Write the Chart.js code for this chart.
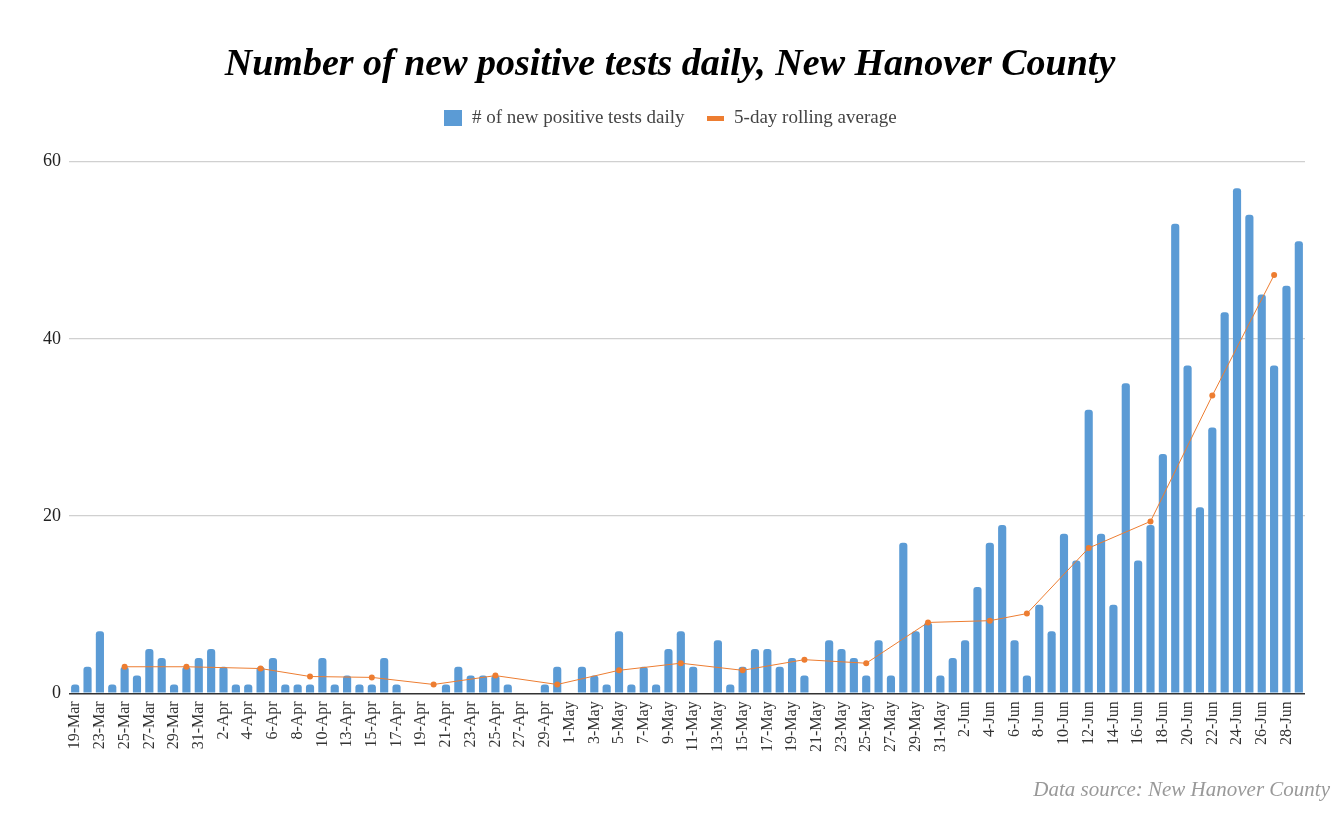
<!DOCTYPE html>
<html lang="en">
<head>
    <meta charset="UTF-8">
    <title>New positive tests, New Hanover County</title>
    <script src="https://cdn.jsdelivr.net/npm/chart.js@4.4.1/dist/chart.umd.min.js"></script>
    <style>
        body {
            margin: 0;
            background: #fff;
        }
        .chart-container {
            width: 1344px;
            height: 829px;
        }
    </style>
</head>
<body>
    <div class="chart-container">
        <canvas id="casesChart"></canvas>
    </div>

    <script>
        // dates on the x axis (one missing day near 20-Mar and near 11-Apr)
        const dates = [
            '19-Mar', '22-Mar', '23-Mar', '24-Mar', '25-Mar', '26-Mar', '27-Mar', '28-Mar', '29-Mar', '30-Mar',
            '31-Mar', '1-Apr', '2-Apr', '3-Apr', '4-Apr', '5-Apr', '6-Apr', '7-Apr', '8-Apr', '9-Apr',
            '10-Apr', '12-Apr', '13-Apr', '14-Apr', '15-Apr', '16-Apr', '17-Apr', '18-Apr', '19-Apr', '20-Apr',
            '21-Apr', '22-Apr', '23-Apr', '24-Apr', '25-Apr', '26-Apr', '27-Apr', '28-Apr', '29-Apr', '30-Apr',
            '1-May', '2-May', '3-May', '4-May', '5-May', '6-May', '7-May', '8-May', '9-May', '10-May',
            '11-May', '12-May', '13-May', '14-May', '15-May', '16-May', '17-May', '18-May', '19-May', '20-May',
            '21-May', '22-May', '23-May', '24-May', '25-May', '26-May', '27-May', '28-May', '29-May', '30-May',
            '31-May', '1-Jun', '2-Jun', '3-Jun', '4-Jun', '5-Jun', '6-Jun', '7-Jun', '8-Jun', '9-Jun',
            '10-Jun', '11-Jun', '12-Jun', '13-Jun', '14-Jun', '15-Jun', '16-Jun', '17-Jun', '18-Jun', '19-Jun',
            '20-Jun', '21-Jun', '22-Jun', '23-Jun', '24-Jun', '25-Jun', '26-Jun', '27-Jun', '28-Jun', '29-Jun'
        ];

        const newPositives = [
            1, 3, 7, 1, 3, 2, 5, 4, 1, 3,
            4, 5, 3, 1, 1, 3, 4, 1, 1, 1,
            4, 1, 2, 1, 1, 4, 1, 0, 0, 0,
            1, 3, 2, 2, 2, 1, 0, 0, 1, 3,
            0, 3, 2, 1, 7, 1, 3, 1, 5, 7,
            3, 0, 6, 1, 3, 5, 5, 3, 4, 2,
            0, 6, 5, 4, 2, 6, 2, 17, 7, 8,
            2, 4, 6, 12, 17, 19, 6, 2, 10, 7,
            18, 15, 32, 18, 10, 35, 15, 19, 27, 53,
            37, 21, 30, 43, 57, 54, 45, 37, 46, 51
        ];

        // rolling average is only plotted on some days
        const avgDates = [
            '25-Mar', '30-Mar', '5-Apr', '9-Apr', '15-Apr', '20-Apr', '25-Apr', '30-Apr', '5-May', '10-May',
            '15-May', '20-May', '25-May', '30-May', '4-Jun', '7-Jun', '12-Jun', '17-Jun', '22-Jun', '27-Jun'
        ];
        const avgValues = [
            3, 3, 2.8, 1.9, 1.8, 1, 2, 1, 2.6, 3.4,
            2.6, 3.8, 3.4, 8, 8.2, 9, 16.4, 19.4, 33.6, 47.2
        ];

        const yTicks = [0, 20, 40, 60];

        const rollingAvg = dates.map(d => {
            const i = avgDates.indexOf(d);
            return i === -1 ? null : avgValues[i];
        });

        function legendIcon(w, h, color) {
            const c = document.createElement('canvas');
            c.width = w;
            c.height = h;
            const g = c.getContext('2d');
            g.fillStyle = color;
            g.fillRect(0, 0, w, h);
            return c;
        }
        const blueIcon = legendIcon(18, 16, '#5b9bd5');
        const orangeIcon = legendIcon(17, 5, '#ed7d31');

        const serif = "'Liberation Serif', 'DejaVu Serif', serif";

        // extra room under the legend
        const legendGap = {
            id: 'legendGap',
            beforeInit(chart) {
                const fit = chart.legend.fit;
                chart.legend.fit = function () {
                    fit.bind(chart.legend)();
                    this.height += 24;
                };
            }
        };

        // source note in the bottom right corner
        const sourceNote = {
            id: 'sourceNote',
            afterDraw(chart) {
                const g = chart.ctx;
                g.save();
                g.font = 'italic 21px ' + serif;
                g.fillStyle = '#999';
                g.textAlign = 'right';
                g.textBaseline = 'middle';
                g.fillText('Data source: New Hanover County', chart.width - 14, chart.height - 39);
                g.restore();
            }
        };

        const ctx = document.getElementById('casesChart').getContext('2d');
        new Chart(ctx, {
            data: {
                labels: dates,
                datasets: [
                    {
                        type: 'line',
                        label: '5-day rolling average',
                        data: rollingAvg,
                        spanGaps: true,
                        borderColor: '#ed7d31',
                        backgroundColor: '#ed7d31',
                        borderWidth: 1,
                        pointRadius: 3,
                        pointBorderWidth: 0,
                        tension: 0,
                        order: 1
                    },
                    {
                        type: 'bar',
                        label: '# of new positive tests daily',
                        data: newPositives,
                        backgroundColor: '#5b9bd5',
                        borderRadius: { topLeft: 3, topRight: 3 },
                        borderSkipped: 'bottom',
                        barPercentage: 0.66,
                        categoryPercentage: 1,
                        order: 2
                    }
                ]
            },
            options: {
                responsive: true,
                maintainAspectRatio: false,
                animation: false,
                layout: {
                    padding: { top: 38, left: 35, right: 39, bottom: 77 }
                },
                plugins: {
                    title: {
                        display: true,
                        text: 'Number of new positive tests daily, New Hanover County',
                        color: '#000',
                        font: { family: serif, size: 38, weight: 'bold', style: 'italic' },
                        padding: { top: 4, bottom: 0 }
                    },
                    legend: {
                        position: 'top',
                        reverse: true,
                        labels: {
                            usePointStyle: true,
                            color: '#444',
                            font: { family: serif, size: 19 },
                            padding: 21,
                            generateLabels(chart) {
                                const items = Chart.defaults.plugins.legend.labels.generateLabels(chart);
                                items.forEach(it => {
                                    it.pointStyle = it.datasetIndex === 1 ? blueIcon : orangeIcon;
                                });
                                return items;
                            }
                        }
                    },
                    tooltip: { enabled: false }
                },
                scales: {
                    x: {
                        grid: { display: false },
                        border: { display: false },
                        ticks: {
                            autoSkip: false,
                            maxRotation: 90,
                            minRotation: 90,
                            color: '#333',
                            font: { family: serif, size: 16 },
                            padding: 0,
                            callback(value, index) {
                                return index % 2 === 0 ? this.getLabelForValue(value) : '';
                            }
                        }
                    },
                    y: {
                        min: 0,
                        max: 60,
                        afterBuildTicks(axis) {
                            axis.ticks = yTicks.map(v => ({ value: v }));
                        },
                        border: { display: false },
                        grid: {
                            color: c => c.tick.value === 0 ? '#333' : '#d0d0d0',
                            lineWidth: c => c.tick.value === 0 ? 1.5 : 1.2,
                            drawTicks: false
                        },
                        ticks: {
                            color: '#222',
                            font: { family: serif, size: 18 },
                            padding: 8
                        }
                    }
                }
            },
            plugins: [legendGap, sourceNote]
        });
    </script>
</body>
</html>
